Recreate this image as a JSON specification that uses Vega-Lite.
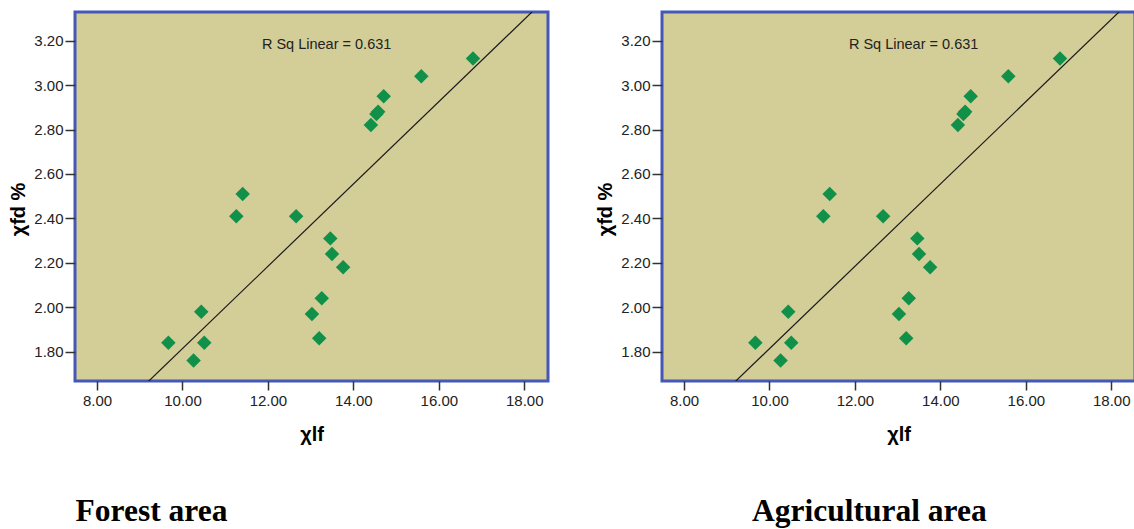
{
  "$schema": "https://vega.github.io/schema/vega-lite/v6.json",
  "padding": {"left": 7, "top": 10, "right": 0, "bottom": 0},
  "spacing": 44,
  "background": "white",
  "datasets": {
    "pts": [
      {"xlf": 9.67, "xfd": 1.84},
      {"xlf": 10.26, "xfd": 1.76},
      {"xlf": 10.44, "xfd": 1.98},
      {"xlf": 10.51, "xfd": 1.84},
      {"xlf": 11.26, "xfd": 2.41},
      {"xlf": 11.41, "xfd": 2.51},
      {"xlf": 12.66, "xfd": 2.41},
      {"xlf": 13.03, "xfd": 1.97},
      {"xlf": 13.20, "xfd": 1.86},
      {"xlf": 13.26, "xfd": 2.04},
      {"xlf": 13.46, "xfd": 2.31},
      {"xlf": 13.50, "xfd": 2.24},
      {"xlf": 13.76, "xfd": 2.18},
      {"xlf": 14.41, "xfd": 2.82},
      {"xlf": 14.54, "xfd": 2.87},
      {"xlf": 14.58, "xfd": 2.88},
      {"xlf": 14.71, "xfd": 2.95},
      {"xlf": 15.59, "xfd": 3.04},
      {"xlf": 16.80, "xfd": 3.12}
    ]
  },
  "config": {
    "view": {"fill": "#D3CD98", "stroke": "#4558B8", "strokeWidth": 3},
    "axis": {
      "grid": false,
      "domain": false,
      "labelFont": "Liberation Sans",
      "labelFontSize": 15,
      "labelColor": "#222222",
      "tickColor": "#333333",
      "tickWidth": 1.5,
      "titleFont": "Liberation Sans",
      "titleFontSize": 20,
      "titleFontWeight": "bold",
      "titleColor": "#000000"
    },
    "title": {
      "font": "Liberation Serif",
      "fontSize": 31.5,
      "fontWeight": "bold",
      "color": "#000000",
      "orient": "bottom",
      "anchor": "start",
      "frame": "group"
    }
  },
  "hconcat": [
    {
      "width": 473,
      "height": 369,
      "title": {"text": "Forest area", "dx": 0.5, "offset": 52},
      "layer": [
        {
          "data": {"name": "pts"},
          "mark": {"type": "point", "shape": "diamond", "filled": true, "size": 210, "color": "#11904A", "opacity": 1},
          "encoding": {
            "x": {"field": "xlf", "type": "quantitative",
              "scale": {"domain": [7.485, 18.555], "nice": false, "zero": false},
              "axis": {"values": [8, 10, 12, 14, 16, 18], "format": ".2f", "title": "χlf", "tickSize": 9, "labelPadding": 3, "titlePadding": 16}},
            "y": {"field": "xfd", "type": "quantitative",
              "scale": {"domain": [1.668, 3.329], "nice": false, "zero": false},
              "axis": {"values": [1.8, 2.0, 2.2, 2.4, 2.6, 2.8, 3.0, 3.2], "format": ".2f", "title": "χfd %", "tickSize": 10, "labelPadding": 2, "titlePadding": 5, "titleY": 197}}
          }
        },
        {
          "data": {"name": "pts"},
          "transform": [{"regression": "xfd", "on": "xlf", "extent": [7.485, 18.555]}],
          "mark": {"type": "line", "color": "#1a1a1a", "strokeWidth": 1.2, "clip": true},
          "encoding": {
            "x": {"field": "xlf", "type": "quantitative"},
            "y": {"field": "xfd", "type": "quantitative"}
          }
        },
        {
          "data": {"values": [{"label": "R Sq Linear = 0.631"}]},
          "mark": {"type": "text", "font": "Liberation Sans", "fontSize": 14.5, "color": "#222222", "baseline": "middle", "align": "center"},
          "encoding": {
            "text": {"field": "label"},
            "x": {"datum": 13.374},
            "y": {"datum": 3.179}
          }
        }
      ]
    },
    {
      "width": 473,
      "height": 369,
      "title": {"text": "Agricultural area", "dx": 90, "offset": 52},
      "layer": [
        {
          "data": {"name": "pts"},
          "mark": {"type": "point", "shape": "diamond", "filled": true, "size": 210, "color": "#11904A", "opacity": 1},
          "encoding": {
            "x": {"field": "xlf", "type": "quantitative",
              "scale": {"domain": [7.485, 18.555], "nice": false, "zero": false},
              "axis": {"values": [8, 10, 12, 14, 16, 18], "format": ".2f", "title": "χlf", "tickSize": 9, "labelPadding": 3, "titlePadding": 16}},
            "y": {"field": "xfd", "type": "quantitative",
              "scale": {"domain": [1.668, 3.329], "nice": false, "zero": false},
              "axis": {"values": [1.8, 2.0, 2.2, 2.4, 2.6, 2.8, 3.0, 3.2], "format": ".2f", "title": "χfd %", "tickSize": 10, "labelPadding": 2, "titlePadding": 5, "titleY": 197}}
          }
        },
        {
          "data": {"name": "pts"},
          "transform": [{"regression": "xfd", "on": "xlf", "extent": [7.485, 18.555]}],
          "mark": {"type": "line", "color": "#1a1a1a", "strokeWidth": 1.2, "clip": true},
          "encoding": {
            "x": {"field": "xlf", "type": "quantitative"},
            "y": {"field": "xfd", "type": "quantitative"}
          }
        },
        {
          "data": {"values": [{"label": "R Sq Linear = 0.631"}]},
          "mark": {"type": "text", "font": "Liberation Sans", "fontSize": 14.5, "color": "#222222", "baseline": "middle", "align": "center"},
          "encoding": {
            "text": {"field": "label"},
            "x": {"datum": 13.374},
            "y": {"datum": 3.179}
          }
        }
      ]
    }
  ]
}
